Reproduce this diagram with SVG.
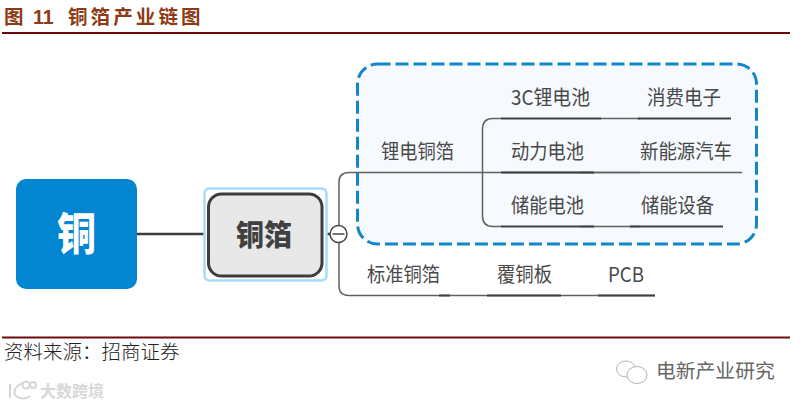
<svg xmlns="http://www.w3.org/2000/svg" width="800" height="406" viewBox="0 0 800 406">
<style>
text{font-family:"Noto Sans CJK SC","Liberation Sans",sans-serif}
.l{font-size:20px;fill:#484848;font-weight:400}
.c{fill:none;stroke:#606060;stroke-width:1.500}
.u{fill:none;stroke:#404040;stroke-width:2}
.r{fill:none;stroke:#6e0a0a;stroke-width:2}
.t{font-size:19.500px;font-weight:700;fill:#8e3a14}
</style>
<rect width="800" height="406" fill="#fff"/>
<g id="header">
<text class="t" x="4" y="24">图</text>
<text class="t" x="33" y="24" style="font-family:'Liberation Sans',sans-serif" font-size="21">11</text>
<text class="t" x="68" y="24" letter-spacing="3.100">铜箔产业链图</text>
<path class="r" d="M2 33H790"/>
</g>
<g id="group-box"><rect x="357.500" y="64" width="399" height="180" rx="20" fill="#f6fafe" stroke="#1187c9" stroke-width="3" stroke-dasharray="13 5"/></g>
<g id="connectors">
<path d="M137 234H208M322 234H331" fill="none" stroke="#3c3c3c" stroke-width="2.500"/>
<path class="c" d="M339 226V182Q339 172.500 349 172.500H742"/>
<path class="c" d="M339 242V286Q339 295.500 349 295.500H655"/>
<path class="c" d="M501 118.500H493Q482.500 118.500 482.500 129V216Q482.500 226.500 493 226.500H501"/>
<path class="c" d="M600 118.500H640M580 172.500H640M580 226.500H640"/>
<path class="u" d="M501 118.500H601M638 118.500H731M501 172.500H594M501 226.500H594M630 226.500H723"/>
<path class="u" d="M439 295.500H450M487 295.500H561M598 295.500H655"/>
</g>
<g id="node-copper"><rect x="16" y="179" width="121" height="110" rx="10" fill="#0386d2"/>
<text x="57" y="250" font-size="44" font-weight="900" fill="#fff" textLength="39" lengthAdjust="spacingAndGlyphs">铜</text></g>
<g id="node-foil">
<rect x="204.500" y="188.500" width="122" height="92" rx="5" fill="#fff" stroke="#a5dcf8" stroke-width="2.500"/>
<rect x="208.500" y="194" width="113.500" height="82" rx="13" fill="#e8e8e8" stroke="#3c3c3c" stroke-width="3"/>
<text x="236" y="246" font-size="29" font-weight="900" fill="#404040" textLength="56" lengthAdjust="spacingAndGlyphs">铜箔</text></g>
<g id="toggle"><circle cx="338.500" cy="234" r="8.500" fill="#fff" stroke="#444" stroke-width="1.500"/><path d="M332.500 234H344.500" stroke="#444" stroke-width="1.500"/></g>
<g id="n1"><text class="l" x="381" y="159" textLength="73" lengthAdjust="spacingAndGlyphs">锂电铜箔</text></g>
<g id="n2"><text class="l" x="511" y="105" textLength="79" lengthAdjust="spacingAndGlyphs">3C锂电池</text></g>
<g id="n3"><text class="l" x="647" y="105" textLength="74" lengthAdjust="spacingAndGlyphs">消费电子</text></g>
<g id="n4"><text class="l" x="511" y="159" textLength="73" lengthAdjust="spacingAndGlyphs">动力电池</text></g>
<g id="n5"><text class="l" x="640" y="159" textLength="92" lengthAdjust="spacingAndGlyphs">新能源汽车</text></g>
<g id="n6"><text class="l" x="511" y="213" textLength="73" lengthAdjust="spacingAndGlyphs">储能电池</text></g>
<g id="n7"><text class="l" x="641" y="213" textLength="73" lengthAdjust="spacingAndGlyphs">储能设备</text></g>
<g id="n8"><text class="l" x="367" y="282" textLength="73" lengthAdjust="spacingAndGlyphs">标准铜箔</text></g>
<g id="n9"><text class="l" x="497" y="282" textLength="55" lengthAdjust="spacingAndGlyphs">覆铜板</text></g>
<g id="n10"><text class="l" x="608" y="282" textLength="36" lengthAdjust="spacingAndGlyphs">PCB</text></g>
<g id="footer">
<path class="r" d="M2 337.500H790"/>
<text x="4" y="359" font-size="19.500" font-weight="300" fill="#222">资料来源：招商证券</text>
</g>
<g id="watermark-left" fill="none" stroke="#d6d6d6" stroke-width="2">
<path d="M10 384V398M22 383Q11 390 16 396Q23 401 30 396"/><circle cx="26" cy="385" r="3.500"/><circle cx="33" cy="385" r="3"/>
<text x="40" y="397" font-size="16" font-weight="700" fill="#d8d8d8" stroke="none">大数跨境</text>
</g>
<g id="watermark-right">
<g fill="#fff" stroke="#b5b5b5" stroke-width="1">
<ellipse cx="626" cy="369" rx="9.500" ry="8"/><ellipse cx="637" cy="375" rx="10" ry="8.500"/></g>
<text x="656" y="378" font-size="19.800" font-weight="400" fill="#666">电新产业研究</text>
</g>
</svg>
